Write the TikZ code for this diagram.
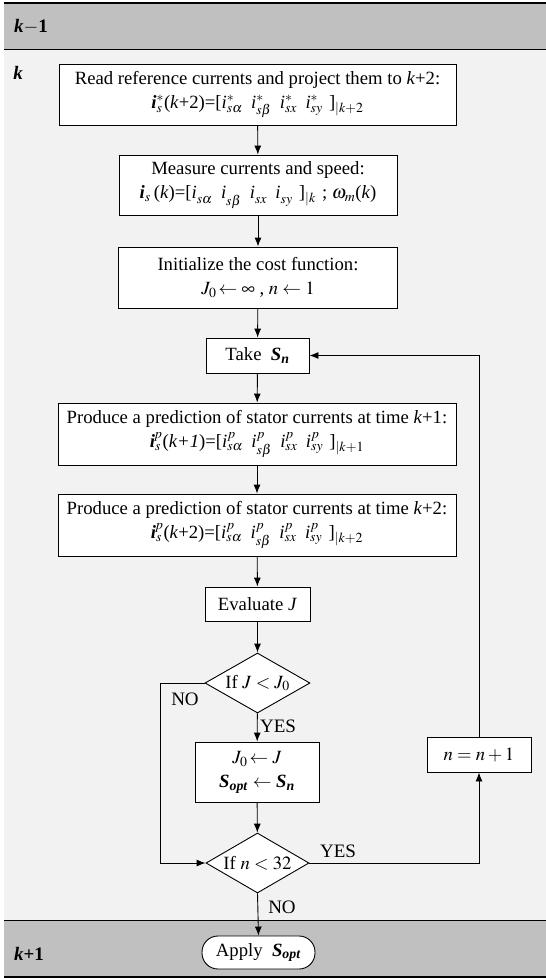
\documentclass[tikz,border=0pt]{standalone}
\usepackage{mathptmx}
\usepackage[no-math]{fontspec}
\setmainfont{Liberation Serif}
\usetikzlibrary{shapes.geometric,arrows.meta}
\newcommand{\bv}[1]{\textbf{\textit{#1}}}
\newcommand{\cu}[2]{\textit{i}$^{#2}_{#1}$}
\newcommand{\gap}{\hspace{0.45em}}
\definecolor{bandgray}{HTML}{C0C0C0}
\definecolor{lightgray}{HTML}{F2F2F2}
\begin{document}
\begin{tikzpicture}[x=1pt,y=-1pt,
        box/.style={draw,fill=white,line width=0.9pt,inner sep=0pt,align=center,font=\fontsize{18.7}{24}\selectfont},
        dec/.style={box,diamond,aspect=1.75},
        arr/.style={-{Latex[length=9pt,width=7pt]},line width=0.9pt},
        lab/.style={font=\fontsize{19}{22}\selectfont}]
    \useasboundingbox (0,0) rectangle (546,978);
    % time bands
    \fill[bandgray] (4,3) rectangle (546,49);
    \fill[lightgray] (4,49) rectangle (546,920);
    \fill[bandgray] (4,920) rectangle (546,977);
    \draw[line width=1.8pt] (4,3) -- (546,3);
    \draw[line width=0.9pt] (4,49) -- (546,49);
    \draw[line width=0.9pt] (4,920) -- (546,920);
    \draw[line width=1.5pt] (4,977) -- (546,977);
    \node[lab] (tprev) at (31,27) {\bv{k}\textbf{$-$1}};
    \node[lab] (tnow) at (18,73) {\bv{k}};
    \node[lab] (tnext) at (29,954) {\bv{k}\textbf{+1}};
    % blocks
    \node[box,minimum width=397,minimum height=61] (read) at (257.5,94.5)
        {Read reference currents and project them to \textit{k}+2:\\
         \bv{i}$^*_s$(\textit{k}+2)=[\cu{s\alpha}{*}\gap\cu{s\beta}{*}\gap\cu{sx}{*}\gap\cu{sy}{*}\,\,]$_{|k+2}$};
    \node[box,minimum width=278,minimum height=60] (meas) at (258,185)
        {Measure currents and speed:\\
         \bv{i}$_s$\,(\textit{k})=[\cu{s\alpha}{}\gap\cu{s\beta}{}\gap\cu{sx}{}\gap\cu{sy}{}\,\,]$_{|k}$\,\,; $\omega_m$(\textit{k})};
    \node[box,minimum width=279,minimum height=61] (init) at (258,277.5)
        {Initialize the cost function:\\ $J_0\!\leftarrow\infty$ , $n\leftarrow1$};
    \node[box,minimum width=103,minimum height=35] (take) at (257.5,355.5)
        {Take\ \ \bv{S}\textsubscript{\bv{n}}};
    \node[box,minimum width=398,minimum height=62] (pred1) at (257,434)
        {Produce a prediction of stator currents at time \textit{k}+1:\\
         \bv{i}$^{\bf\it p}_s$(\textit{k+1})=[\cu{s\alpha}{p}\gap\cu{s\beta}{p}\gap\cu{sx}{p}\gap\cu{sy}{p}\,\,]$_{|k+1}$};
    \node[box,minimum width=398,minimum height=62] (pred2) at (257,525)
        {Produce a prediction of stator currents at time \textit{k}+2:\\
         \bv{i}$^{\bf\it p}_s$(\textit{k}+2)=[\cu{s\alpha}{p}\gap\cu{s\beta}{p}\gap\cu{sx}{p}\gap\cu{sy}{p}\,\,]$_{|k+2}$};
    \node[box,minimum width=105,minimum height=34] (eval) at (257.5,604) {Evaluate \textit{J}};
    \node[dec,minimum width=105,minimum height=60] (if1) at (257.5,683) {If $J<J_0$};
    \node[box,minimum width=124,minimum height=60] (assign) at (257,772)
        {$J_0\!\leftarrow J$\\ \bv{S}\textsubscript{\bv{opt}} $\leftarrow$ \bv{S}\textsubscript{\bv{n}}};
    \node[box,minimum width=104,minimum height=35] (incr) at (479,754.5) {$n=n+1$};
    \node[dec,minimum width=103,minimum height=60] (if2) at (257.5,863) {If $n<32$};
    \node[box,rounded corners=16pt,minimum width=113,minimum height=33] (apply) at (258.5,952.5)
        {Apply\ \ \bv{S}\textsubscript{\bv{opt}}};
    % flow
    \draw[arr] (read) -- (meas);
    \draw[arr] (meas) -- (init);
    \draw[arr] (init) -- (take);
    \draw[arr] (take) -- (pred1);
    \draw[arr] (pred1) -- (pred2);
    \draw[arr] (pred2) -- (eval);
    \draw[arr] (eval) -- (if1);
    \draw[arr] (if1) -- (assign) node[lab,pos=0.45,right=-1pt] {YES};
    \draw[arr] (assign) -- (if2);
    \draw[arr] (if1.west) -- ++(-44,0) coordinate (nocorner) |- (if2.west);
    \node[lab] (no1) at (185,699) {NO};
    \draw[arr] (if2.east) -| (incr.south);
    \node[lab] (yes2) at (338,851) {YES};
    \draw[arr] (incr.north) |- (take.east);
    \draw[arr] (if2.south) -- (apply.north);
    \node[lab] (no2) at (282,907) {NO};
\end{tikzpicture}
\end{document}
